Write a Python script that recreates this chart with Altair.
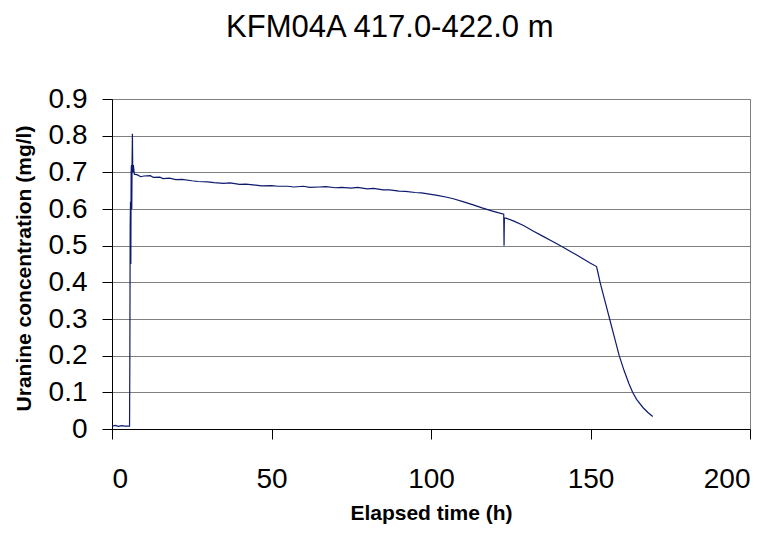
import altair as alt
import pandas as pd

time_h = [0, 1, 2, 3, 4, 5.5, 5.6, 5.7, 5.8, 5.9, 6.0, 6.1, 6.2, 6.3, 6.4, 6.5, 6.7,
          7.0, 8, 9, 10, 12, 13, 15, 16, 18, 20, 22, 25, 27, 30, 32, 35, 37, 40, 42,
          45, 47, 50, 52, 55, 57, 60, 62, 65, 67, 70, 72, 75, 77, 80, 82, 85, 87, 90,
          92, 95, 97, 100, 102, 105, 107, 110, 113, 116, 119, 121, 122.8, 122.9, 123.0,
          123.5, 126, 129, 132, 135, 138, 141, 144, 147, 150, 151.9, 152.5, 153, 154.5,
          156, 157.5, 159, 160.5, 162, 163.2, 164.5, 166.5, 168, 169.5]
conc = [0.008, 0.010, 0.007, 0.009, 0.008, 0.008, 0.20, 0.55, 0.62, 0.45, 0.70, 0.72,
        0.60, 0.73, 0.805, 0.70, 0.72, 0.695, 0.693, 0.688, 0.690, 0.691, 0.686, 0.687,
        0.683, 0.684, 0.680, 0.681, 0.677, 0.675, 0.674, 0.672, 0.670, 0.671, 0.667,
        0.668, 0.665, 0.663, 0.664, 0.662, 0.662, 0.660, 0.662, 0.659, 0.660, 0.661,
        0.658, 0.659, 0.657, 0.659, 0.655, 0.656, 0.652, 0.652, 0.649, 0.648, 0.645,
        0.644, 0.640, 0.637, 0.632, 0.628, 0.620, 0.612, 0.603, 0.595, 0.590, 0.586,
        0.50, 0.575, 0.575, 0.567, 0.555, 0.540, 0.526, 0.512, 0.498, 0.483, 0.468,
        0.452, 0.443, 0.42, 0.40, 0.35, 0.30, 0.25, 0.20, 0.16, 0.125, 0.10, 0.08,
        0.058, 0.045, 0.034]

df = pd.DataFrame({"t": time_h, "c": conc, "i": list(range(len(time_h)))})

FONT = "Liberation Sans"

chart = alt.Chart(df).mark_line(color="#0d1a6e", strokeWidth=1.2).encode(
    x=alt.X("t:Q", scale=alt.Scale(domain=[0, 200], nice=False),
            axis=alt.Axis(values=[0, 50, 100, 150, 200], title="Elapsed time (h)",
                          grid=False, domainColor="black", tickColor="black",
                          tickSize=10, labelFontSize=28, labelFont=FONT,
                          labelPadding=26, labelColor="black",
                          titleFont=FONT, titleFontSize=21, titleFontWeight="bold",
                          titlePadding=9, titleColor="black")),
    y=alt.Y("c:Q", scale=alt.Scale(domain=[0, 0.9], nice=False),
            axis=alt.Axis(values=[0, 0.1, 0.2, 0.3, 0.4, 0.5, 0.6, 0.7, 0.8, 0.9],
                          format="~g", title="Uranine concentration (mg/l)",
                          grid=True, gridColor="#808080", gridWidth=1, gridOpacity=1,
                          domainColor="black", tickColor="black", tickSize=10,
                          labelFontSize=28, labelFont=FONT, labelPadding=15,
                          labelColor="black",
                          titleFont=FONT, titleFontSize=21, titleFontWeight="bold",
                          titleX=-78, titleY=169, titleColor="black")),
    order="i:Q",
).properties(
    width=638, height=330,
    title=alt.TitleParams("KFM04A 417.0-422.0 m", font=FONT, fontSize=31,
                          fontWeight="normal", color="black", offset=41, dx=8,
                          frame="bounds", anchor="middle"),
    autosize=alt.AutoSizeParams(type="none"),
    padding={"left": 104, "top": 91, "right": 19, "bottom": 99},
).configure_view(stroke="#808080", strokeWidth=1)

chart.save("out.html", embed_options={"renderer": "svg", "actions": False})
